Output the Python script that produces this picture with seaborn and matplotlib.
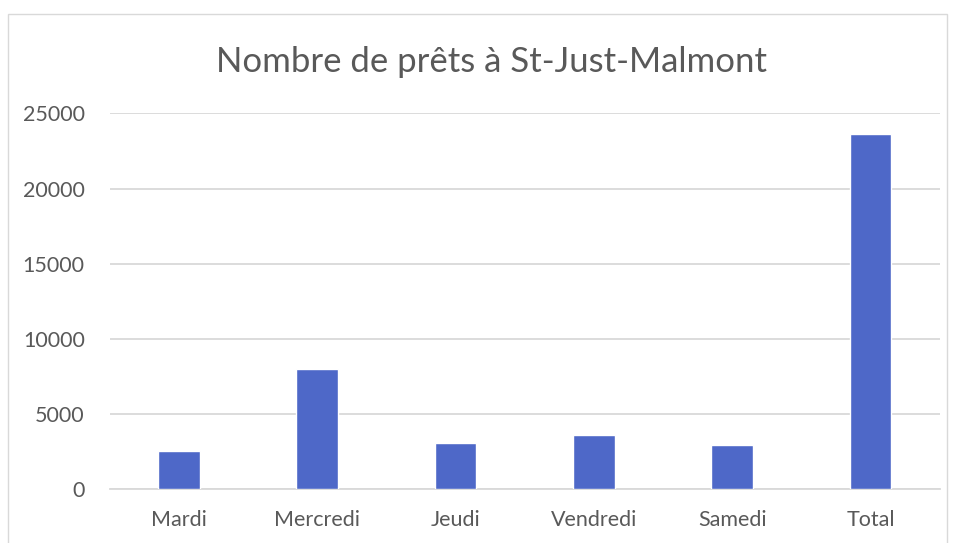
import matplotlib
matplotlib.use('Agg')
import matplotlib.pyplot as plt
import seaborn as sns
import pandas as pd
from matplotlib.patches import Rectangle

# data
jours = ['Mardi', 'Mercredi', 'Jeudi', 'Vendredi', 'Samedi', 'Total']
prets = [2570, 8000, 3080, 3590, 2950, 23640]

df = pd.DataFrame({'Jour': jours, 'Prets': prets})

sns.set_theme(style='white')
plt.rcParams['font.family'] = ['Lato', 'DejaVu Sans']

txt = '#595959'
grid = '#D9D9D9'

fig = plt.figure(figsize=(9.54, 5.43), dpi=100)
ax = fig.add_axes([0.115, 0.099, 0.870, 0.692])

sns.barplot(data=df, x='Jour', y='Prets', color='#4E68C8', width=0.3,
            saturation=1, ax=ax, zorder=3)

ax.set_ylim(0, 25000)
ax.set_yticks(range(0, 25001, 5000))
ax.yaxis.grid(True, color=grid, linewidth=1.3, zorder=0)
ax.set_axisbelow(True)
for s in ['top', 'right', 'left']:
    ax.spines[s].set_visible(False)
ax.spines['bottom'].set_color(grid)
ax.spines['bottom'].set_linewidth(1.3)
ax.tick_params(axis='both', length=0, colors=txt, labelsize=15.5)
ax.tick_params(axis='y', pad=18)
ax.tick_params(axis='x', pad=15)
ax.set_xlabel('')
ax.set_ylabel('')

fig.text(0.515, 0.886, 'Nombre de prêts à St-Just-Malmont', ha='center', va='center',
         fontsize=25, color=txt)

# chart frame
fig.patches.append(Rectangle((0.008, -0.05), 0.985, 1.024, transform=fig.transFigure,
                             fill=False, edgecolor=grid, linewidth=1))

fig.savefig('out.png', dpi=100)
